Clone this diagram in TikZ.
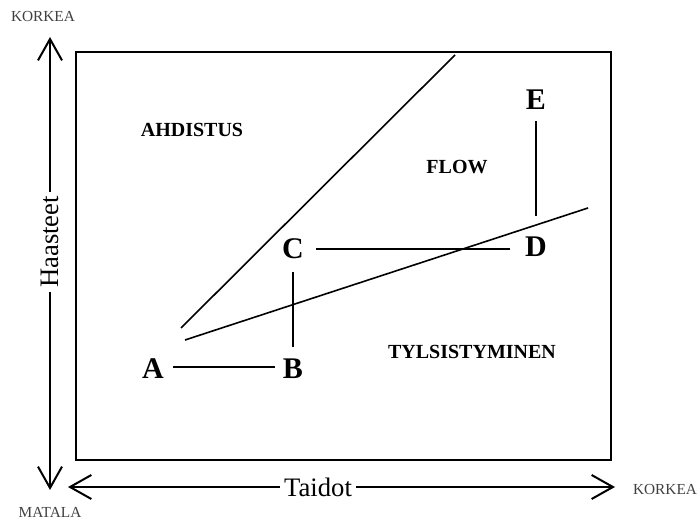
\documentclass[tikz,border=0pt]{standalone}
\usepackage{fontspec}
\setmainfont{Liberation Serif}
\usetikzlibrary{arrows.meta}
\begin{document}
\begin{tikzpicture}[x=0.75pt,y=-0.75pt,
  letter/.style={font=\fontsize{22.5}{24}\selectfont\bfseries, inner sep=0pt},
  region/.style={font=\fontsize{15}{17}\selectfont\bfseries, inner sep=0pt},
  axislabel/.style={font=\fontsize{20}{22}\selectfont, fill=white, inner sep=3pt},
  endlabel/.style={font=\fontsize{11.5}{13}\selectfont, text=black!75, inner sep=0pt},
  seg/.style={line width=1.5pt},
  diag/.style={line width=1.2pt},
  axis/.style={line width=1.5pt, {Straight Barb[length=16pt,width=18pt,line width=1.5pt]}-{Straight Barb[length=16pt,width=18pt,line width=1.5pt]}}
]
\useasboundingbox (0,0) rectangle (697,520);
% frame
\draw[line width=1.5pt] (76,52) rectangle (611,460);
% axes
\coordinate (vtop) at (50,37);
\coordinate (vbot) at (50,490);
\coordinate (hleft) at (68,487);
\coordinate (hright) at (615,487);
\draw[axis] (vtop) -- (vbot);
\draw[axis] (hleft) -- (hright);
\node[axislabel, rotate=90] (haasteet) at (50,242) {Haasteet};
\node[axislabel] (taidot) at (318,487) {Taidot};
\node[endlabel] (korkeaY) at (43,17) {KORKEA};
\node[endlabel] (matala) at (50,512) {MATALA};
\node[endlabel] (korkeaX) at (665,489) {KORKEA};
% diagonal lines
\coordinate (d1a) at (181,328);
\coordinate (d1b) at (455,55);
\coordinate (d2a) at (185,340);
\coordinate (d2b) at (588,208);
\draw[diag] (d1a) -- (d1b);
\draw[diag] (d2a) -- (d2b);
% region labels
\node[region] (ahd) at (192,130) {AHDISTUS};
\node[region] (flow) at (457,167) {FLOW};
\node[region] (tyl) at (472,352) {TYLSISTYMINEN};
% letters
\node[letter] (A) at (153,369) {A};
\node[letter] (B) at (293,369) {B};
\node[letter] (C) at (293,249) {C};
\node[letter] (D) at (536,247) {D};
\node[letter] (E) at (536,100) {E};
\draw[seg, shorten <=20pt*0.75, shorten >=18pt*0.75] ([yshift=1.5pt]A.center) -- ([yshift=1.5pt]B.center);
\draw[seg, shorten <=22*0.75pt, shorten >=23*0.75pt] (B.center) -- (C.center);
\draw[seg, shorten <=23*0.75pt, shorten >=26*0.75pt] (C.center) -- (C.center -| D.center);
\draw[seg, shorten <=31*0.75pt, shorten >=21*0.75pt] (D.center) -- (E.center);
\end{tikzpicture}
\end{document}
